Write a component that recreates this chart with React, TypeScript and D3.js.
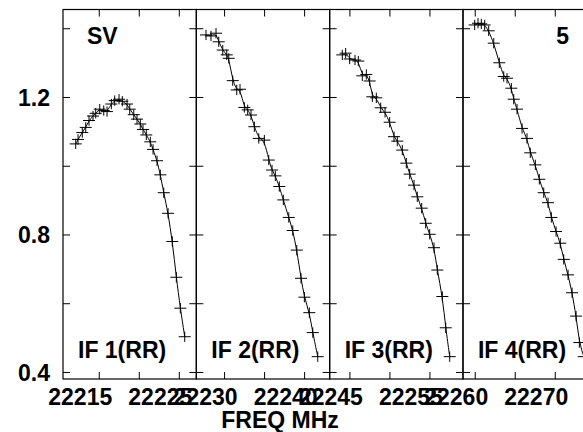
import React from "react";
import * as d3 from "d3";

const panelLabels = ["IF 1(RR)", "IF 2(RR)", "IF 3(RR)", "IF 4(RR)"];
const panelDomains: [number, number][] = [
  [22210.47, 22227.13],
  [22226.47, 22243.13],
  [22242.47, 22259.13],
  [22258.47, 22275.13],
];
const panelTicks = [
  [22215, 22220, 22225],
  [22230, 22235, 22240],
  [22245, 22250, 22255],
  [22260, 22265, 22270],
];
const panelTickLabels = [
  [22215, 22225],
  [22230, 22240],
  [22245, 22255],
  [22260, 22270],
];
const yTicks = [0.4, 0.6, 0.8, 1.0, 1.2, 1.4];
const yTickLabels = [0.4, 0.8, 1.2];

const if1Freq = [22212.06, 22212.35, 22212.88, 22213.31, 22213.72, 22214.22, 22214.56, 22215.06, 22215.56, 22215.97, 22216.51, 22216.93, 22217.47, 22217.88, 22218.47, 22218.81, 22219.31, 22219.72, 22220.13, 22220.47, 22220.88, 22221.38, 22221.72, 22222.22, 22222.63, 22223.06, 22223.6, 22224.13, 22224.63, 22225.13, 22225.68];
const if1Amp = [1.065, 1.078, 1.098, 1.113, 1.133, 1.146, 1.154, 1.166, 1.162, 1.159, 1.181, 1.191, 1.195, 1.189, 1.181, 1.166, 1.150, 1.137, 1.123, 1.107, 1.091, 1.071, 1.049, 1.016, 0.975, 0.923, 0.863, 0.781, 0.677, 0.587, 0.504];

const if2Freq = [22227.68, 22228.3, 22228.93, 22229.27, 22229.77, 22230.27, 22230.52, 22231.02, 22231.52, 22231.93, 22232.47, 22232.89, 22233.3, 22233.72, 22234.27, 22234.97, 22235.52, 22235.93, 22236.34, 22236.84, 22237.34, 22238.02, 22238.52, 22239.02, 22239.55, 22239.97, 22240.59, 22241.02, 22241.64];
const if2Amp = [1.382, 1.379, 1.387, 1.362, 1.338, 1.324, 1.314, 1.249, 1.222, 1.224, 1.171, 1.164, 1.149, 1.115, 1.081, 1.076, 1.018, 0.989, 0.972, 0.941, 0.902, 0.851, 0.813, 0.756, 0.674, 0.619, 0.574, 0.516, 0.446];

const if3Freq = [22244.05, 22244.47, 22244.97, 22245.64, 22246.05, 22246.55, 22247.05, 22247.47, 22247.8, 22248.3, 22248.85, 22249.39, 22249.97, 22250.51, 22250.92, 22251.55, 22252.05, 22252.47, 22253.01, 22253.42, 22253.97, 22254.47, 22254.97, 22255.51, 22255.92, 22256.55, 22256.97, 22257.47];
const if3Amp = [1.324, 1.329, 1.312, 1.309, 1.306, 1.263, 1.267, 1.248, 1.202, 1.199, 1.170, 1.157, 1.128, 1.086, 1.073, 1.047, 1.009, 0.977, 0.945, 0.911, 0.878, 0.834, 0.802, 0.763, 0.698, 0.621, 0.530, 0.446];

const if4Freq = [22259.93, 22260.35, 22260.76, 22261.18, 22261.68, 22262.31, 22263.01, 22263.56, 22263.97, 22264.51, 22264.81, 22265.22, 22265.85, 22266.47, 22266.88, 22267.51, 22268.01, 22268.56, 22269.1, 22269.51, 22270.1, 22270.63, 22271.06, 22271.6, 22272.1, 22272.6, 22273.01, 22273.56];
const if4Amp = [1.411, 1.416, 1.414, 1.411, 1.394, 1.358, 1.301, 1.261, 1.256, 1.227, 1.195, 1.166, 1.110, 1.081, 1.039, 1.004, 0.962, 0.923, 0.894, 0.851, 0.810, 0.776, 0.729, 0.684, 0.632, 0.564, 0.487, 0.446];

const panelFreqs = [if1Freq, if2Freq, if3Freq, if4Freq];
const panelAmps = [if1Amp, if2Amp, if3Amp, if4Amp];

const sourceLabel = "SV";
const plotNumber = "5";
const xTitle = "FREQ MHz";
const chanHalfWidth = 0.75; // MHz
const ampErr = 0.015;

const W = 583;
const H = 432;
const plotLeft = 63;
const panelW = 133.33;
const plotTop = 9.5;
const plotBottom = 379;
const tickLen = 7;
const labelOffset = -19;
const font = "'Liberation Sans', Arial, Helvetica, sans-serif";

export default function App() {
  const y = d3.scaleLinear().domain([0.381, 1.456]).range([plotBottom, plotTop]);
  const line = d3
    .line<[number, number]>()
    .x((d) => d[0])
    .y((d) => d[1])
    .curve(d3.curveBasis);

  return (
    <div style={{ position: "fixed", left: 0, top: 0, width: W, height: H, background: "#fff" }}>
      <svg width={W} height={H} style={{ display: "block" }}>
        <rect x={0} y={0} width={W} height={H} fill="#fff" />
        {panelDomains.map((dom, k) => {
          const left = plotLeft + k * panelW;
          const x = d3.scaleLinear().domain(dom).range([left, left + panelW]);
          const pts: [number, number][] = panelFreqs[k].map((f, i) => [x(f), y(panelAmps[k][i])]);
          return (
            <g key={k}>
              <rect
                x={left}
                y={plotTop}
                width={panelW}
                height={plotBottom - plotTop}
                fill="none"
                stroke="#000"
                strokeWidth={1.2}
              />
              {yTicks.map((t) => (
                <g key={"y" + t}>
                  <line x1={left} x2={left + tickLen} y1={y(t)} y2={y(t)} stroke="#000" strokeWidth={1} />
                  <line x1={left + panelW - tickLen} x2={left + panelW} y1={y(t)} y2={y(t)} stroke="#000" strokeWidth={1} />
                </g>
              ))}
              {panelTicks[k].map((t) => (
                <g key={"x" + t}>
                  <line x1={x(t)} x2={x(t)} y1={plotTop} y2={plotTop + tickLen} stroke="#000" strokeWidth={1} />
                  <line x1={x(t)} x2={x(t)} y1={plotBottom - tickLen} y2={plotBottom} stroke="#000" strokeWidth={1} />
                </g>
              ))}
              {panelTickLabels[k].map((t) => (
                <text
                  key={"xl" + t}
                  x={x(t) + labelOffset}
                  y={405}
                  textAnchor="middle"
                  fontFamily={font}
                  fontWeight="bold"
                  fontSize={23}
                  fill="#000"
                >
                  {t}
                </text>
              ))}
              <path d={line(pts) || ""} fill="none" stroke="#000" strokeWidth={1} />
              {pts.map((p, i) => {
                const f = panelFreqs[k][i];
                const a = panelAmps[k][i];
                return (
                  <g key={"p" + i}>
                    <line
                      x1={x(f - chanHalfWidth)}
                      x2={x(f + chanHalfWidth)}
                      y1={p[1]}
                      y2={p[1]}
                      stroke="#000"
                      strokeWidth={1}
                    />
                    <line
                      x1={p[0]}
                      x2={p[0]}
                      y1={y(a - ampErr)}
                      y2={y(a + ampErr)}
                      stroke="#000"
                      strokeWidth={1}
                    />
                  </g>
                );
              })}
              <text
                x={left + 15}
                y={358}
                fontFamily={font}
                fontWeight="bold"
                fontSize={23}
                fill="#000"
              >
                {panelLabels[k]}
              </text>
            </g>
          );
        })}
        {yTickLabels.map((t) => (
          <text
            key={"yl" + t}
            x={50}
            y={y(t) + 8.5}
            textAnchor="end"
            fontFamily={font}
            fontWeight="bold"
            fontSize={23}
            fill="#000"
          >
            {t.toFixed(1)}
          </text>
        ))}
        <text x={87} y={43.5} fontFamily={font} fontWeight="bold" fontSize={23} fill="#000">
          {sourceLabel}
        </text>
        <text x={569} y={43.5} textAnchor="end" fontFamily={font} fontWeight="bold" fontSize={23} fill="#000">
          {plotNumber}
        </text>
        <text x={280} y={428} textAnchor="middle" fontFamily={font} fontWeight="bold" fontSize={23} fill="#000">
          {xTitle}
        </text>
      </svg>
    </div>
  );
}
